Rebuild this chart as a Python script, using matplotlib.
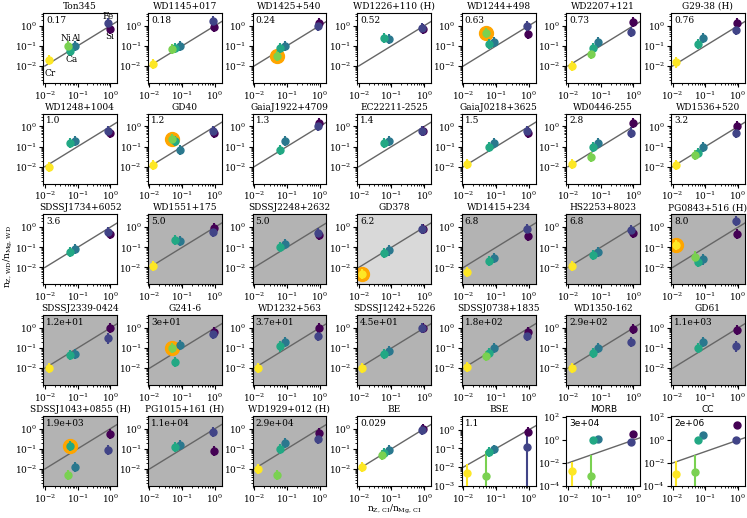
import matplotlib
matplotlib.use("Agg")
import matplotlib.pyplot as plt
import numpy as np

plt.rcParams['font.family'] = 'DejaVu Serif'
plt.rcParams['mathtext.fontset'] = 'dejavuserif'
plt.rcParams['font.size'] = 6

nan = np.nan

# element order and chondritic (CI) ratio to Mg
elements = ['Si', 'Fe', 'Al', 'Ca', 'Ni', 'Cr']
x_ci = [0.95, 0.87, 0.085, 0.06, 0.05, 0.013]

names = ['Ton345', 'WD1145+017', 'WD1425+540', 'WD1226+110 (H)', 'WD1244+498', 'WD2207+121', 'G29-38 (H)',
         'WD1248+1004', 'GD40', 'GaiaJ1922+4709', 'EC22211-2525', 'GaiaJ0218+3625', 'WD0446-255', 'WD1536+520',
         'SDSSJ1734+6052', 'WD1551+175', 'SDSSJ2248+2632', 'GD378', 'WD1415+234', 'HS2253+8023', 'PG0843+516 (H)',
         'SDSSJ2339-0424', 'G241-6', 'WD1232+563', 'SDSSJ1242+5226', 'SDSSJ0738+1835', 'WD1350-162', 'GD61',
         'SDSSJ1043+0855 (H)', 'PG1015+161 (H)', 'WD1929+012 (H)', 'BE', 'BSE', 'MORB', 'CC']
numbers = ['0.17', '0.18', '0.24', '0.52', '0.63', '0.73', '0.76',
           '1.0', '1.2', '1.3', '1.4', '1.5', '2.8', '3.2',
           '3.6', '5.0', '5.0', '6.2', '6.8', '6.8', '8.0',
           '1.2e+01', '3e+01', '3.7e+01', '4.5e+01', '1.8e+02', '2.9e+02', '1.1e+03',
           '1.9e+03', '1.1e+04', '2.9e+04', '0.029', '1.1', '3e+04', '2e+06']
# 0 white, 1 light grey, 2 grey
shade = [0]*15 + [2, 2, 1, 2, 2, 2] + [2]*7 + [2, 2, 2, 0, 0, 0, 0]
# element highlighted with orange ring (index in elements, -1 none)
highlight = [-1, -1, 4, -1, 4, -1, -1,
             -1, 4, -1, -1, -1, -1, -1,
             -1, -1, -1, 5, -1, -1, 5,
             -1, 4, -1, -1, -1, -1, -1,
             3, -1, -1, -1, -1, -1, -1]

y_si = [0.7, 0.85, 1.3, 0.7, 0.4, 1.5, 1.4,
        0.45, 0.5, 1.5, 0.6, 0.5, 1.5, 1.0,
        0.45, 0.9, 0.4, 0.8, 0.35, 0.5, 0.45,
        1.0, 0.6, 1.0, 1.0, 0.6, 0.9, 0.8,
        0.55, 0.08, 0.6, 1.0, 0.8, 3.5, 20.0]
y_fe = [1.3, 1.8, 1.0, 0.8, 1.0, 0.5, 0.6,
        0.6, 0.6, 1.0, 0.6, 0.6, 0.5, 0.5,
        0.55, 0.6, 0.5, 0.8, 0.8, 0.7, 2.0,
        0.3, 0.5, 0.4, 1.0, 0.4, 0.2, 0.12,
        0.09, 0.7, 0.3, 0.9, 0.12, 0.7, 1.1]
y_al = [0.1, 0.1, 0.1, 0.22, 0.15, 0.15, 0.25,
        0.2, 0.07, 0.2, 0.2, 0.15, 0.15, 0.1,
        0.08, 0.2, 0.15, 0.07, 0.03, 0.06, 0.025,
        0.05, 0.15, 0.2, 0.07, 0.1, 0.1, 0.2,
        0.012, 0.15, 0.2, 0.09, 0.09, 1.3, 3.0]
y_ca = [0.055, 0.08, 0.08, 0.25, 0.12, 0.08, 0.12,
        0.15, 0.2, 0.07, 0.15, 0.1, 0.1, 0.05,
        0.06, 0.22, 0.1, 0.055, 0.02, 0.04, 0.018,
        0.045, 0.02, 0.12, 0.05, 0.06, 0.06, 0.1,
        0.14, 0.12, 0.1, 0.065, 0.065, 1.0, 1.0]
y_ni = [0.1, 0.07, 0.03, nan, 0.45, 0.04, nan,
        nan, 0.25, nan, nan, nan, 0.03, 0.04,
        nan, nan, nan, nan, nan, nan, 0.035,
        nan, 0.1, nan, nan, 0.04, nan, nan,
        0.005, nan, 0.005, 0.05, 0.0035, 0.0008, 0.0015]
y_cr = [0.02, 0.012, nan, nan, nan, 0.01, 0.015,
        0.01, 0.012, nan, nan, 0.013, 0.013, 0.012,
        nan, 0.012, nan, 0.005, 0.006, 0.012, 0.13,
        0.01, nan, 0.01, 0.01, 0.012, 0.01, nan,
        nan, nan, 0.01, 0.012, 0.005, 0.002, 0.0012]

# wide error ranges (low, high) for the reference reservoirs
wide_err = {(32, 'Fe'): (1e-3, 0.8), (32, 'Ni'): (1e-3, 0.07), (32, 'Cr'): (1e-3, 0.015),
            (33, 'Ni'): (1e-4, 0.05), (33, 'Cr'): (1e-4, 0.012),
            (34, 'Ni'): (1e-4, 0.05), (34, 'Cr'): (1e-4, 0.015)}
err_dex = 0.25

ys = [y_si, y_fe, y_al, y_ca, y_ni, y_cr]
colors = plt.cm.viridis(np.linspace(0, 1, len(elements)))
bg = ['white', '0.85', '0.7']

fig, axes = plt.subplots(5, 7, figsize=(7.47, 5.18), dpi=100)
fig.subplots_adjust(left=0.058, right=0.997, top=0.975, bottom=0.062, wspace=0.42, hspace=0.44)

line_x = np.array([0.01, 3.0])
for i, ax in enumerate(axes.flat):
    ax.set_xscale('log')
    ax.set_yscale('log')
    ax.set_facecolor(bg[shade[i]])
    ax.plot(line_x, line_x, color='0.4', lw=1, zorder=1)
    h = highlight[i]
    if h >= 0:
        ax.plot(x_ci[h], ys[h][i], 'o', color='orange', ms=10, zorder=2)
    for k, el in enumerate(elements):
        y = ys[k][i]
        if np.isnan(y):
            continue
        if (i, el) in wide_err:
            lo, hi = wide_err[(i, el)]
        else:
            lo, hi = y / 10**err_dex, y * 10**err_dex
        ax.errorbar(x_ci[k], y, yerr=[[y - lo], [hi - y]], fmt='o', color=colors[k],
                    ms=5, elinewidth=1.5, capsize=0, zorder=3)
    ax.set_xlim(0.009, 1.6)
    ax.set_xticks([1e-2, 1e-1, 1])
    if i == 32:
        ax.set_ylim(1e-3, 5.5)
        ax.set_yticks([1e-3, 1e-2, 1e-1, 1])
    elif i >= 33:
        ax.set_ylim(1e-4, 130)
        ax.set_yticks([1e-4, 1e-2, 1, 1e2])
        ax.yaxis.set_minor_locator(matplotlib.ticker.NullLocator())
    else:
        ax.set_ylim(1.45e-3, 4.3)
        ax.set_yticks([1e-2, 1e-1, 1])
    fam = 'DejaVu Sans' if i >= 33 else 'DejaVu Serif'
    ax.set_title(names[i], fontsize=6.5, pad=3, family=fam)
    ax.text(0.04, 0.96, numbers[i], transform=ax.transAxes, ha='left', va='top', fontsize=6.5, family=fam)
    ax.tick_params(labelsize=6.5, pad=1.5, length=3)
    ax.tick_params(which='minor', length=1.5)

# element labels on the first panel
ax0 = axes.flat[0]
label_pos = {'Si': (0.95, 0.28), 'Fe': (0.85, 2.8), 'Al': (0.085, 0.24),
             'Ca': (0.065, 0.022), 'Ni': (0.045, 0.24), 'Cr': (0.015, 0.0045)}
for el, (lx, ly) in label_pos.items():
    ax0.text(lx, ly, el, ha='center', va='center', fontsize=6.5)

fig.text(0.011, 0.505, r'$\rm n_{Z,\,WD}/n_{Mg,\,WD}$', rotation=90, ha='center', va='center', fontsize=6.5)
fig.text(0.528, 0.016, r'$\rm n_{Z,\,CI}/n_{Mg,\,CI}$', ha='center', va='center', fontsize=6.5)

fig.savefig('out.png', dpi=100)
